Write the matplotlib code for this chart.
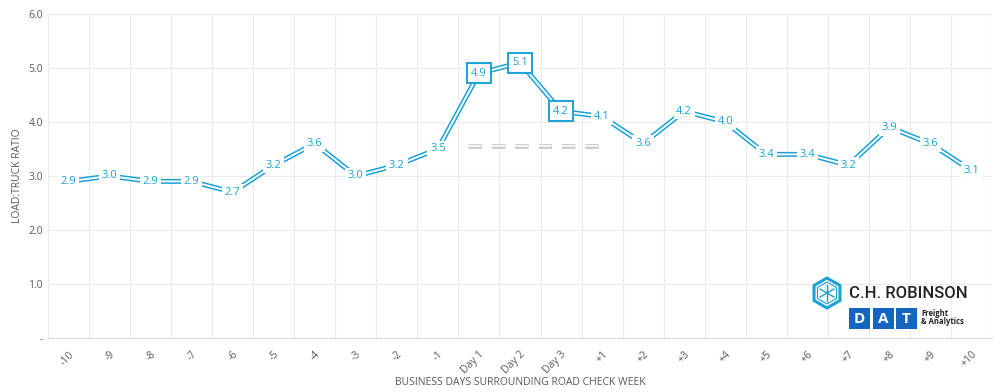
import numpy as np
import matplotlib.pyplot as plt
from matplotlib.patches import RegularPolygon, Rectangle

plt.rcParams['font.family'] = ['Open Sans', 'DejaVu Sans']
plt.rcParams['lines.scale_dashes'] = False

# data
days = ['-10', '-9', '-8', '-7', '-6', '-5', '-4', '-3', '-2', '-1',
        'Day 1', 'Day 2', 'Day 3',
        '+1', '+2', '+3', '+4', '+5', '+6', '+7', '+8', '+9', '+10']
ratio = [2.9, 3.0, 2.9, 2.9, 2.7, 3.2, 3.6, 3.0, 3.2, 3.5,
         4.9, 5.1, 4.2,
         4.1, 3.6, 4.2, 4.0, 3.4, 3.4, 3.2, 3.9, 3.6, 3.1]
boxed = ['Day 1', 'Day 2', 'Day 3']
ref_level = 3.55

blue = '#1ba1d6'
txt = '#595959'

fig = plt.figure(figsize=(10, 3.92), dpi=100)
ax = fig.add_axes([0.048, 0.1378, 0.944, 0.8265])

x = np.arange(len(days))
# double line: thick blue then thin white core
ax.plot(x, ratio, color=blue, lw=3.6, zorder=3, solid_joinstyle='miter')
ax.plot(x, ratio, color='white', lw=1.4, zorder=4, solid_joinstyle='miter')

# gray dashed double line over the road check days
ls = (0, (9.7, 7.1))
ax.plot([9.73, 12.95], [ref_level, ref_level], color='#c8c8c8', lw=3.4,
        linestyle=ls, solid_capstyle='butt', dash_capstyle='butt', zorder=2)
ax.plot([9.73, 12.95], [ref_level, ref_level], color='white', lw=1.2,
        linestyle=ls, dash_capstyle='butt', zorder=2)

for xi, v, d in zip(x, ratio, days):
    if d in boxed:
        bb = dict(boxstyle='square,pad=0.4', fc='white', ec=blue, lw=1.4)
    else:
        bb = dict(boxstyle='square,pad=0.25', fc='white', ec='none')
    ax.text(xi, v, f'{v:.1f}', ha='center', va='center', fontsize=8,
            color=blue, bbox=bb, zorder=5)

ax.set_xlim(-0.5, len(days) - 0.5)
ax.set_ylim(0, 6)
ax.set_yticks(np.arange(0, 6.1, 1.0))
ax.set_yticklabels(['-'] + [f'{t:.1f}' for t in np.arange(1, 6.1, 1.0)])
ax.set_xticks(x)
ax.set_xticklabels(days, rotation=45, ha='right', rotation_mode='anchor')
ax.set_xticks(np.arange(-0.5, len(days), 1.0), minor=True)
ax.tick_params(axis='both', which='both', length=0, colors=txt, labelsize=7.5)
ax.tick_params(axis='x', pad=8)
ax.grid(True, axis='y', color='#ebebeb', lw=0.8)
ax.grid(True, axis='x', which='minor', color='#ebebeb', lw=0.8)
ax.set_axisbelow(True)
for s in ['top', 'right', 'left']:
    ax.spines[s].set_visible(False)
ax.spines['bottom'].set_color('#d9d9d9')

ax.set_ylabel('LOAD:TRUCK RATIO', fontsize=7.5, color=txt)
fig.text(0.52, 0.025, 'BUSINESS DAYS SURROUNDING ROAD CHECK WEEK',
         ha='center', va='center', fontsize=7.5, color=txt)

# logo overlay
lg = fig.add_axes([0, 0, 1, 1])
lg.set_xlim(0, 1000)
lg.set_ylim(392, 0)
lg.axis('off')
lg.add_patch(RegularPolygon((827, 293), 6, radius=15, orientation=0,
                            fc='none', ec=blue, lw=2.2))
lg.add_patch(RegularPolygon((827, 293), 6, radius=11, orientation=0,
                            fc='none', ec=blue, lw=0.8))
for ang in range(0, 360, 60):
    a = np.deg2rad(ang + 90)
    lg.plot([827, 827 + 8 * np.cos(a)], [293, 293 + 8 * np.sin(a)],
            color=blue, lw=1.0)
lg.text(849, 293, 'C.H. ROBINSON', fontsize=12, color='#222222',
        ha='left', va='center', family=['Roboto', 'DejaVu Sans'], weight='medium')
for i, ch in enumerate('DAT'):
    lg.add_patch(Rectangle((849 + i * 23.5, 308), 21, 21, fc='#1565c0', ec='none'))
    lg.text(849 + i * 23.5 + 10.5, 319, ch, fontsize=11, color='white',
            ha='center', va='center', weight='bold')
lg.text(921, 314, 'Freight', fontsize=5.5, color='#222222', weight='bold',
        ha='left', va='center')
lg.text(921, 322, '& Analytics', fontsize=5.5, color='#222222', weight='bold',
        ha='left', va='center')

fig.savefig('out.png', dpi=100)
